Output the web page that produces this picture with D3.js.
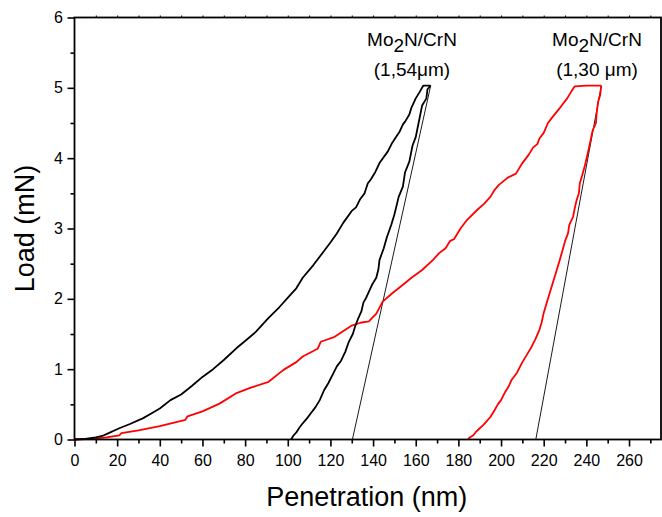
<!DOCTYPE html>
<html><head><meta charset="utf-8">
<script src="https://cdn.jsdelivr.net/npm/d3@7/dist/d3.min.js"></script>
<style>body{margin:0;background:#fff}svg{display:block}text{font-family:"Liberation Sans",Arial,sans-serif}</style>
</head><body>
<svg id="c" width="662" height="517"></svg>
<script>
const xTicks = [0,20,40,60,80,100,120,140,160,180,200,220,240,260];
const yTicks = [0,1,2,3,4,5,6];
const blackLoad = [[0,0],[5,0.01],[10,0.03],[13,0.05],[16,0.09],[21,0.16],[26,0.22],[32,0.30],[36,0.37],[40,0.44],[45,0.56],[50,0.64],[55,0.76],[60,0.89],[65,1.0],[70,1.13],[76,1.30],[80,1.40],[85,1.53],[91,1.73],[96,1.88],[101,2.05],[104,2.15],[107,2.30],[112,2.48],[117,2.68],[120,2.80],[123,2.93],[126,3.08],[130,3.25],[132,3.30],[134,3.42],[136,3.50],[137.5,3.64],[139,3.70],[141,3.80],[143,3.93],[147,4.10],[149,4.22],[151,4.31],[152.5,4.38],[154,4.48],[155,4.52],[157,4.62],[158,4.72],[160,4.85],[162,4.95],[163.5,5.03],[167,5.03]];
const blackUnload = [[167,5.03],[165.5,4.98],[165,4.85],[163,4.75],[162,4.6],[161,4.45],[160,4.3],[158.5,4.18],[157,3.95],[155,3.8],[154,3.6],[152,3.45],[150,3.2],[148.5,3.05],[146.5,2.88],[145,2.72],[143,2.55],[142.5,2.42],[141.5,2.3],[139.5,2.2],[138,2.1],[136.5,2.0],[135.5,1.95],[134.5,1.82],[133,1.72],[131.5,1.6],[130.5,1.5],[128.5,1.38],[127,1.25],[125,1.12],[123,1.04],[121,0.92],[119,0.8],[117,0.7],[115,0.56],[113,0.46],[111,0.38],[109,0.3],[107,0.23],[105.5,0.17],[104,0.1],[102.5,0.05],[102,0.02],[101.5,0]];
const redLoad = [[0,0],[8,0.01],[15,0.03],[21,0.06],[22,0.09],[30,0.13],[40,0.19],[52,0.28],[53,0.33],[60,0.40],[68,0.51],[76,0.66],[82,0.73],[91,0.82],[98,0.99],[104,1.10],[107,1.18],[114,1.29],[115.5,1.39],[122,1.46],[130,1.62],[134,1.66],[138,1.68],[141.5,1.79],[144.5,1.96],[149,2.08],[154,2.20],[158,2.30],[163,2.41],[168,2.55],[171,2.65],[174,2.72],[176,2.82],[178,2.85],[181,3.0],[184,3.12],[189,3.27],[192,3.35],[195,3.45],[197,3.55],[199,3.62],[203,3.72],[207,3.78],[210,3.93],[213,4.05],[215,4.15],[217,4.20],[218,4.28],[220,4.36],[222,4.50],[224,4.58],[228,4.73],[231,4.85],[233,4.95],[234.5,5.02],[240,5.03],[247,5.03]];
const redUnload = [[247,5.03],[246.5,4.9],[245.5,4.8],[244.7,4.6],[244.5,4.5],[243,4.4],[241.6,4.2],[240.5,4.05],[239.2,3.88],[238,3.75],[236.9,3.64],[236.5,3.5],[235.4,3.4],[234.5,3.28],[233.8,3.17],[232,3.05],[231.4,2.93],[230,2.82],[229.1,2.72],[227.5,2.55],[226,2.4],[224.5,2.25],[223,2.1],[221.5,1.95],[220,1.8],[219,1.66],[218,1.56],[216,1.42],[214,1.3],[212,1.2],[210,1.1],[207.5,0.95],[205,0.85],[203.5,0.75],[202,0.68],[200,0.56],[198.5,0.5],[197,0.42],[195,0.32],[193,0.25],[191.5,0.2],[190,0.16],[188,0.1],[187,0.06],[185,0.02],[184.5,0]];
const tangentBlack = [[167,5.03],[130.3,0]];
const tangentRed = [[247,5.03],[216.3,0]];
const labels = [{cx:412,t1:"Mo",sub:"2",t2:"N/CrN",t3:"(1,54μm)"},{cx:597,t1:"Mo",sub:"2",t2:"N/CrN",t3:"(1,30 μm)"}];

const svg = d3.select("#c");
const L=74.5, R=661, T=17.5, B=439.5;
const x = d3.scaleLinear().domain([0,275]).range([L,R]);
const y = d3.scaleLinear().domain([0,6]).range([B,T]);

const g = svg.append("g");
const xMinor = d3.range(10,275,20);
const yMinor = d3.range(0.5,6,1);
const xa = g.append("g").attr("transform",`translate(0,${B})`).call(d3.axisBottom(x).tickValues(xTicks).tickSize(7).tickSizeOuter(0).tickFormat(d3.format("d")));
xa.select(".domain").remove();
xa.selectAll("line").attr("stroke-width",1.6);
xa.selectAll("text").attr("font-size",16).attr("dy","1.0em").attr("fill","#000");
g.append("g").attr("transform",`translate(0,${B})`).call(d3.axisBottom(x).tickValues(xMinor).tickSize(4).tickFormat("")).call(s=>{s.select(".domain").remove();s.selectAll("line").attr("stroke-width",1.6);});
const ya = g.append("g").attr("transform",`translate(${L},0)`).call(d3.axisLeft(y).tickValues(yTicks).tickSize(7).tickFormat(d3.format("d")));
ya.select(".domain").remove();
ya.selectAll("line").attr("stroke-width",1.6);
ya.selectAll("text").attr("font-size",16).attr("dx","-0.1em").attr("fill","#000");
g.append("g").attr("transform",`translate(${L},0)`).call(d3.axisLeft(y).tickValues(yMinor).tickSize(4).tickFormat("")).call(s=>{s.select(".domain").remove();s.selectAll("line").attr("stroke-width",1.6);});
g.append("g").attr("transform",`translate(0,${T})`).call(d3.axisTop(x).tickValues(d3.range(10,275,10)).tickSize(2).tickFormat("")).call(s=>{s.select(".domain").remove();s.selectAll("line").attr("stroke-width",1);});

const line = d3.line().x(d=>x(d[0])).y(d=>y(d[1]));
const plot = svg.append("g");
plot.append("path").datum(tangentBlack).attr("d",line).attr("fill","none").attr("stroke","#000").attr("stroke-width",0.9);
plot.append("path").datum(tangentRed).attr("d",line).attr("fill","none").attr("stroke","#000").attr("stroke-width",0.9);
[[redLoad,"#ff0000"],[redUnload,"#ff0000"],[blackLoad,"#000"],[blackUnload,"#000"]].forEach(([d,c])=>{
  plot.append("path").datum(d).attr("d",line).attr("fill","none").attr("stroke",c).attr("stroke-width",1.8).attr("stroke-linejoin","round");
});

svg.append("rect").attr("x",L).attr("y",T).attr("width",R-L).attr("height",B-T).attr("fill","none").attr("stroke","#000").attr("stroke-width",1.8);

labels.forEach(l=>{
  const t = svg.append("text").attr("x",l.cx).attr("y",46).attr("text-anchor","middle").attr("font-size",19);
  t.append("tspan").text(l.t1);
  t.append("tspan").attr("dy",6).text(l.sub);
  t.append("tspan").attr("dy",-6).text(l.t2);
  svg.append("text").attr("x",l.cx).attr("y",76).attr("text-anchor","middle").attr("font-size",19).text(l.t3);
});

svg.append("text").attr("x",(L+R)/2 - 1).attr("y",506).attr("text-anchor","middle").attr("font-size",27).text("Penetration (nm)");
svg.append("text").attr("transform",`translate(34,${(T+B)/2}) rotate(-90)`).attr("text-anchor","middle").attr("font-size",27).text("Load (mN)");
</script>
</body></html>
